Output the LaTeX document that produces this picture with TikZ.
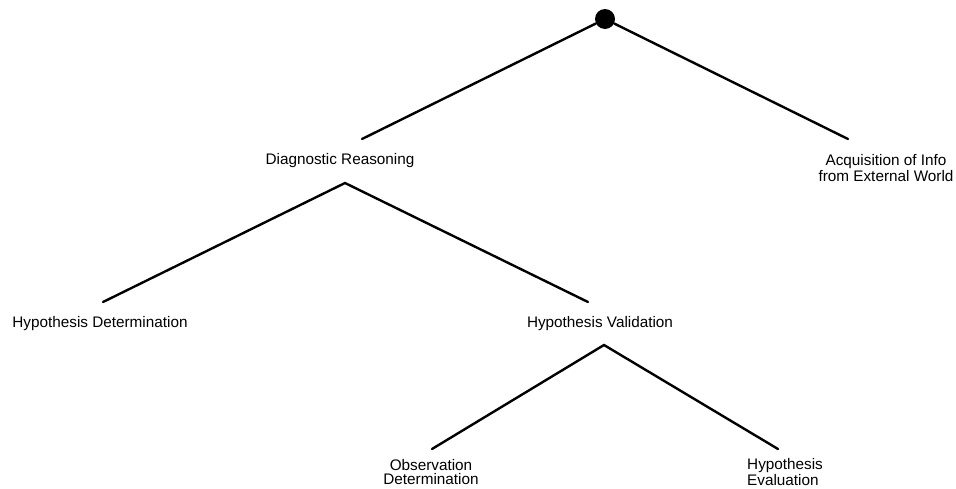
\documentclass[tikz,border=0pt]{standalone}
\usepackage{fontspec}
\setmainfont{Liberation Sans}
\begin{document}
\begin{tikzpicture}[x=1pt,y=-1pt,
  lbl/.style={font=\fontsize{15.3}{14}\selectfont, align=center, inner sep=0pt},
  branch/.style={line width=2.4pt, line cap=round}]
\useasboundingbox (0,0) rectangle (956,488);

% root
\node[circle, fill=black, minimum size=20pt, inner sep=0pt] (root) at (605,19) {};

% labels
\node[lbl] (diag) at (340,161) {Diagnostic Reasoning};
\node[lbl] (acq)  at (886,168) {Acquisition of Info\\from External World};
\node[lbl] (hdet) at (100,323.5) {Hypothesis Determination};
\node[lbl] (hval) at (600,323.5) {Hypothesis Validation};
\node[lbl] (odet) at (431,472) {Observation\\Determination};
\node[lbl, align=left, anchor=west] (heva) at (747,472) {Hypothesis\\Evaluation};

% branch end points
\coordinate (diagIn)  at (362,139);
\coordinate (acqIn)   at (848,139);
\coordinate (diagOut) at (345,183);
\coordinate (hdetIn)  at (103,302);
\coordinate (hvalIn)  at (588,302);
\coordinate (hvalOut) at (604,345);
\coordinate (odetIn)  at (432,449);
\coordinate (hevaIn)  at (778,449);

% branches
\draw[branch] (root) -- (diagIn);
\draw[branch] (root) -- (acqIn);
\draw[branch] (hdetIn) -- (diagOut) -- (hvalIn);
\draw[branch] (odetIn) -- (hvalOut) -- (hevaIn);
\end{tikzpicture}
\end{document}
